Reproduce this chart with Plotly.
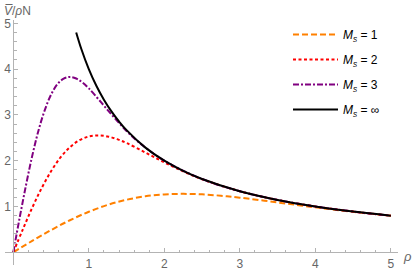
import plotly.graph_objects as go

# M_s = 1
rho_1 = [0, 0.25, 0.5, 0.75, 1, 1.25, 1.5, 1.75, 2, 2.25, 2.5, 2.75, 3, 3.5, 4, 4.5, 5]
v_1 = [0, 0.248, 0.485, 0.700, 0.885, 1.035, 1.147, 1.223, 1.264, 1.276, 1.265, 1.235, 1.193, 1.089, 0.982, 0.883, 0.798]
# M_s = 2
rho_2 = [0, 0.125, 0.25, 0.375, 0.5, 0.625, 0.75, 0.875, 1, 1.125, 1.25, 1.375, 1.5, 1.75, 2, 2.25, 2.5, 3, 3.5, 4, 4.5, 5]
v_2 = [0, 0.496, 0.970, 1.400, 1.770, 2.070, 2.294, 2.446, 2.528, 2.552, 2.530, 2.470, 2.386, 2.178, 1.964, 1.766, 1.596, 1.333, 1.143, 1.0, 0.889, 0.8]
# M_s = 3
rho_3 = [0, 0.083, 0.167, 0.25, 0.333, 0.417, 0.5, 0.583, 0.667, 0.75, 0.833, 0.917, 1.0, 1.167, 1.333, 1.5, 1.667, 2, 2.5, 3, 3.5, 4, 4.5, 5]
v_3 = [0, 0.744, 1.455, 2.100, 2.655, 3.105, 3.441, 3.669, 3.792, 3.828, 3.795, 3.705, 3.579, 3.267, 2.946, 2.649, 2.394, 2.0, 1.6, 1.333, 1.143, 1.0, 0.889, 0.8]
# M_s = infinity
rho_inf = [0.833, 0.9, 1, 1.1, 1.2, 1.3, 1.4, 1.5, 1.75, 2, 2.25, 2.5, 3, 3.5, 4, 4.5, 5]
v_inf = [4.8, 4.444, 4.0, 3.636, 3.333, 3.077, 2.857, 2.667, 2.286, 2.0, 1.778, 1.6, 1.333, 1.143, 1.0, 0.889, 0.8]

labels = ["1", "2", "3", "\u221e"]
colors = ["#FF8000", "#FF0000", "#800080", "#000000"]
dashes = ["6px,3px", "3px,2.5px", "6px,2px,2px,2px", "solid"]

tick_vals = [1, 2, 3, 4, 5]
tick_text = ["1", "2", "3", "4", "5"]
minor_vals = [i / 5 for i in range(0, 26)]

W, H = 415, 272
px_x0, px_y0 = 13.3, 252.3      # pixel of origin
sx, sy = 75.5, 45.8            # pixels per unit
x_left, x_right = 5, 398
y_bot, y_top = 265, 20

xr = [(x_left - px_x0) / sx, (x_right - px_x0) / sx]
yr = [(px_y0 - y_bot) / sy, (px_y0 - y_top) / sy]

fig = go.Figure()
for rx, vy, lab, col, dsh in zip([rho_1, rho_2, rho_3, rho_inf], [v_1, v_2, v_3, v_inf], labels, colors, dashes):
    fig.add_trace(go.Scatter(
        x=rx, y=vy, mode="lines",
        line=dict(color=col, width=2, dash=dsh, shape="spline", smoothing=1.0),
        name="<i>M</i><sub><i>s</i></sub> = " + lab,
        legendgroup=lab,
    ))

axis_col = "#b3b3b3"
lab_col = "#666666"
font_fam = "Liberation Sans, Arial, sans-serif"

fig.update_layout(
    width=W, height=H, autosize=False,
    margin=dict(l=0, r=0, t=0, b=0),
    paper_bgcolor="white", plot_bgcolor="white",
    font=dict(family=font_fam, size=12, color=lab_col),
    showlegend=True,
    legend=dict(
        x=288 / W, y=1 - 20 / H, xanchor="left", yanchor="top",
        font=dict(family=font_fam, size=12, color="#000000"),
        tracegroupgap=6, itemwidth=45, bgcolor="rgba(0,0,0,0)",
    ),
    xaxis=dict(
        range=xr, domain=[x_left / W, x_right / W],
        anchor="free", position=1 - px_y0 / H, automargin=False,
        showgrid=False, zeroline=False,
        showline=True, linecolor=axis_col, linewidth=1,
        tickmode="array", tickvals=tick_vals, ticktext=tick_text,
        ticks="inside", ticklen=4, tickcolor=axis_col, tickwidth=1,
        tickfont=dict(color=lab_col, size=12),
        minor=dict(tickmode="array", tickvals=minor_vals, ticks="inside", ticklen=2.5, tickcolor=axis_col, showgrid=False),
    ),
    yaxis=dict(
        range=yr, domain=[1 - y_bot / H, 1 - y_top / H],
        anchor="free", position=px_x0 / W, automargin=False,
        showgrid=False, zeroline=False,
        showline=True, linecolor=axis_col, linewidth=1,
        tickmode="array", tickvals=tick_vals, ticktext=tick_text,
        ticks="inside", ticklen=4, tickcolor=axis_col, tickwidth=1,
        tickfont=dict(color=lab_col, size=12),
        minor=dict(tickmode="array", tickvals=minor_vals, ticks="inside", ticklen=2.5, tickcolor=axis_col, showgrid=False),
    ),
    annotations=[
        dict(text="<i>V\u0305</i>/<i>\u03c1</i>N", x=2 / W, y=1 - 11 / H, xref="paper", yref="paper",
             xanchor="left", yanchor="middle", showarrow=False, font=dict(size=12, color=lab_col)),
        dict(text="<i>\u03c1</i>", x=407 / W, y=1 - 256 / H, xref="paper", yref="paper",
             xanchor="center", yanchor="middle", showarrow=False, font=dict(size=13, color=lab_col)),
    ],
)

fig.write_html(
    "out.html",
    config={"displayModeBar": False, "staticPlot": True},
    post_script="document.body.style.margin='0';document.body.style.overflow='hidden';",
)
